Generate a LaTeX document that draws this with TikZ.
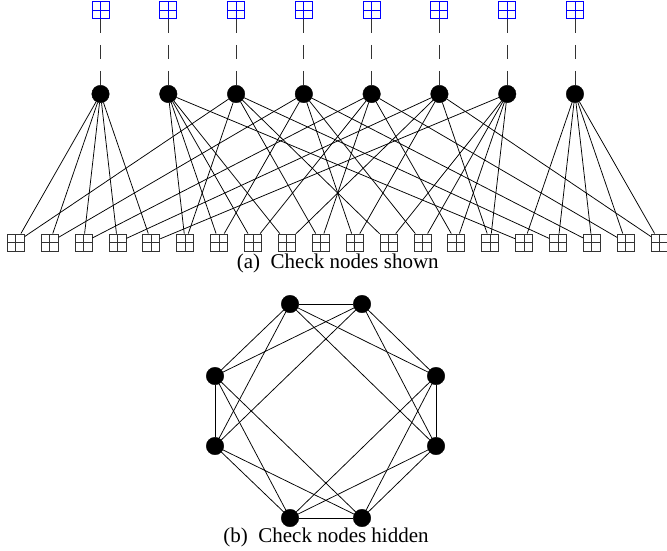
\documentclass[tikz,border=0pt]{standalone}
\usepackage{fontspec}
\setmainfont{Liberation Serif}
\begin{document}
\begin{tikzpicture}[x=1pt,y=-1pt,
  vnode/.style={circle,fill=black,draw=black,minimum size=17.5pt,inner sep=0pt},
  chk/.style={draw=black!80,line width=0.9pt,minimum size=17pt,inner sep=0pt,
    path picture={\draw[line width=0.9pt,black!80]
      (path picture bounding box.north)--(path picture bounding box.south)
      (path picture bounding box.west)--(path picture bounding box.east);}},
  bchk/.style={draw=blue,line width=0.9pt,minimum size=17pt,inner sep=0pt,
    path picture={\draw[line width=0.9pt,blue]
      (path picture bounding box.north)--(path picture bounding box.south)
      (path picture bounding box.west)--(path picture bounding box.east);}},
  edgeline/.style={line width=0.75pt,black},
  dashline/.style={line width=0.8pt,black!80,dash pattern=on 14pt off 12pt},
  captext/.style={anchor=base,font=\fontsize{21}{25}\selectfont}
]
\useasboundingbox (0,0) rectangle (667,550);

% (a) variable nodes and top check nodes
\foreach \k in {1,...,8} {
  \pgfmathsetmacro\xv{15.8+33.89*(0.5+2*\k)}
  \node[vnode] (v\k) at (\xv,94) {};
  \node[bchk] (t\k) at (\xv,10) {};
  \draw[dashline] (t\k) -- (v\k);
}
% bottom check nodes
\foreach \j in {0,...,19} {
  \pgfmathsetmacro\xc{15.8+33.89*\j}
  \node[chk] (c\j) at (\xc,242.5) {};
}
% edges: check / variable / variable
\foreach \c/\a/\b in {0/1/3, 1/1/4, 2/1/5, 3/1/6, 4/1/7,
                      5/2/3, 6/2/4, 7/2/5, 8/2/6,
                      9/3/5, 10/4/6,
                      11/7/3, 12/7/4, 13/7/5, 14/7/6,
                      15/8/2, 16/8/3, 17/8/4, 18/8/5, 19/8/6} {
  \draw[edgeline] (v\a) -- (c\c);
  \draw[edgeline] (v\b) -- (c\c);
}
\node[captext] (capa) at (337.8,268) {(a)\enspace Check nodes shown};

% (b) check nodes hidden
\node[vnode] (A) at (290,304) {};
\node[vnode] (B) at (362,304) {};
\node[vnode] (C) at (436,376) {};
\node[vnode] (D) at (436,446) {};
\node[vnode] (E) at (362,518) {};
\node[vnode] (F) at (290,518) {};
\node[vnode] (G) at (215,446) {};
\node[vnode] (H) at (215,376) {};
\foreach \p/\q in {A/B, A/C, A/D, A/G, A/H,
                   B/C, B/D, B/G, B/H,
                   C/D, C/E, C/F,
                   D/E, D/F,
                   E/F, E/G, E/H,
                   F/G, F/H,
                   G/H} {
  \draw[edgeline] (\p) -- (\q);
}
\node[captext] (capb) at (326,542) {(b)\enspace Check nodes hidden};
\end{tikzpicture}
\end{document}
